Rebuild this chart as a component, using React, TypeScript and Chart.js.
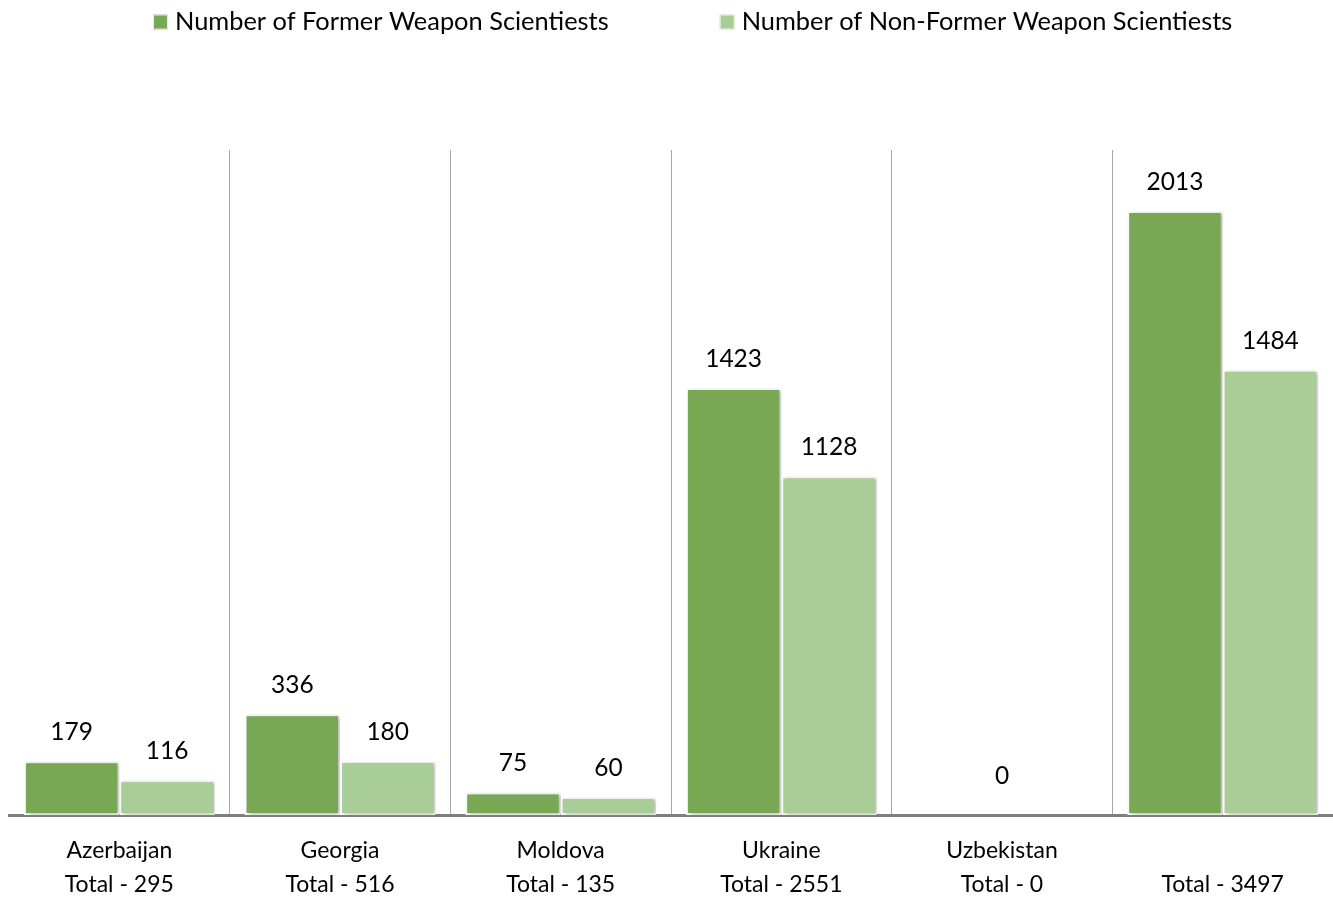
import React, { useEffect, useRef } from "react";
import { Chart, registerables } from "chart.js";

Chart.register(...registerables);

// Countries (the last group is the overall total, which carries no country name)
const countries = ["Azerbaijan", "Georgia", "Moldova", "Ukraine", "Uzbekistan", ""];
const totals = [295, 516, 135, 2551, 0, 3497];
const formerScientists = [179, 336, 75, 1423, 0, 2013];
const nonFormerScientists = [116, 180, 60, 1128, 0, 1484];

const seriesNames = [
  "Number of Former Weapon Scientiests",
  "Number of Non-Former Weapon Scientiests",
];
const seriesColors = ["#78A853", "#A9CD96"];

const FONT_FAMILY = "Lato, 'Noto Sans', sans-serif";
const LEGEND_SIZE = 25.4;
const VALUE_SIZE = 24.5;
const TICK_SIZE = 23;

// Soft drop shadow behind the bars
const barShadow = {
  id: "barShadow",
  beforeDatasetsDraw(chart: any) {
    const ctx = chart.ctx;
    ctx.save();
    ctx.shadowColor = "rgba(0,0,0,0.30)";
    ctx.shadowBlur = 4;
    ctx.shadowOffsetX = 2;
    ctx.shadowOffsetY = 1;
  },
  afterDatasetsDraw(chart: any) {
    chart.ctx.restore();
  },
};

// Value labels above the bars; an empty group gets a single centred label
const valueLabels = {
  id: "valueLabels",
  afterDatasetsDraw(chart: any) {
    const ctx = chart.ctx;
    ctx.save();
    ctx.font = `${VALUE_SIZE}px ${FONT_FAMILY}`;
    ctx.fillStyle = "#000";
    ctx.textAlign = "center";
    ctx.textBaseline = "middle";
    const metas = chart.data.datasets.map((_: any, i: number) => chart.getDatasetMeta(i));
    const xScale = chart.scales.x;
    const yScale = chart.scales.y;
    chart.data.labels.forEach((_: any, idx: number) => {
      const vals = chart.data.datasets.map((d: any) => d.data[idx]);
      if (vals.every((v: number) => v === 0)) {
        const x = xScale.getPixelForValue(idx);
        ctx.fillText("0", x, yScale.getPixelForValue(0) - 39);
        return;
      }
      metas.forEach((meta: any, di: number) => {
        const bar = meta.data[idx];
        ctx.fillText(String(vals[di]), bar.x, bar.y - 29);
      });
    });
    ctx.restore();
  },
};

// Legend row across the top
const topLegend = {
  id: "topLegend",
  afterDraw(chart: any) {
    const ctx = chart.ctx;
    ctx.save();
    ctx.font = `${LEGEND_SIZE}px ${FONT_FAMILY}`;
    ctx.textBaseline = "middle";
    ctx.textAlign = "left";
    let x = 153;
    const y = 22;
    const box = 15;
    chart.data.datasets.forEach((ds: any) => {
      ctx.fillStyle = ds.backgroundColor;
      ctx.fillRect(x, y - box / 2, box, box);
      ctx.strokeStyle = "rgba(255,255,255,0.8)";
      ctx.lineWidth = 1;
      ctx.strokeRect(x + 0.5, y - box / 2 + 0.5, box - 1, box - 1);
      ctx.fillStyle = "#000";
      const tx = x + box + 7;
      ctx.fillText(ds.label, tx, y);
      x = tx + ctx.measureText(ds.label).width + 111;
    });
    ctx.restore();
  },
};

export default function App() {
  const canvasRef = useRef<HTMLCanvasElement | null>(null);

  useEffect(() => {
    if (!canvasRef.current) return;
    const labels = countries.map((c, i) => [c, `Total - ${totals[i]}`]);
    const chart = new Chart(canvasRef.current, {
      type: "bar",
      data: {
        labels,
        datasets: [
          {
            label: seriesNames[0],
            data: formerScientists,
            backgroundColor: seriesColors[0],
            borderColor: "#ffffff",
            borderWidth: 2,
            borderSkipped: false,
          },
          {
            label: seriesNames[1],
            data: nonFormerScientists,
            backgroundColor: seriesColors[1],
            borderColor: "#ffffff",
            borderWidth: 2,
            borderSkipped: false,
          },
        ],
      },
      options: {
        animation: false,
        responsive: true,
        maintainAspectRatio: false,
        layout: { padding: { top: 150, left: 9, right: 0, bottom: 0 } },
        datasets: {
          bar: { categoryPercentage: 0.865, barPercentage: 1 },
        },
        plugins: {
          legend: { display: false },
          tooltip: { enabled: false },
        },
        scales: {
          x: {
            z: 1,
            offset: true,
            grid: {
              offset: true,
              drawTicks: false,
              lineWidth: 1,
              // separators only between groups, not at the outer edges
              color: (ctx: any) =>
                ctx.type !== "tick" || ctx.index === 0 ? "rgba(0,0,0,0)" : "#A6A6A6",
            },
            border: { display: true, color: "#7F7F7F", width: 3 },
            ticks: {
              color: "#000",
              padding: 19,
              maxRotation: 0,
              autoSkip: false,
              font: { family: FONT_FAMILY, size: TICK_SIZE, lineHeight: 34 / TICK_SIZE },
            },
            afterFit: (scale: any) => {
              scale.height = 82;
            },
          },
          y: {
            display: false,
            min: 0,
            max: 2216,
          },
        },
      },
      plugins: [barShadow, valueLabels, topLegend],
    });
    return () => chart.destroy();
  }, []);

  return (
    <div style={{ position: "fixed", left: 0, top: 0, width: 1333, height: 897, background: "#fff" }}>
      <canvas ref={canvasRef} />
    </div>
  );
}
